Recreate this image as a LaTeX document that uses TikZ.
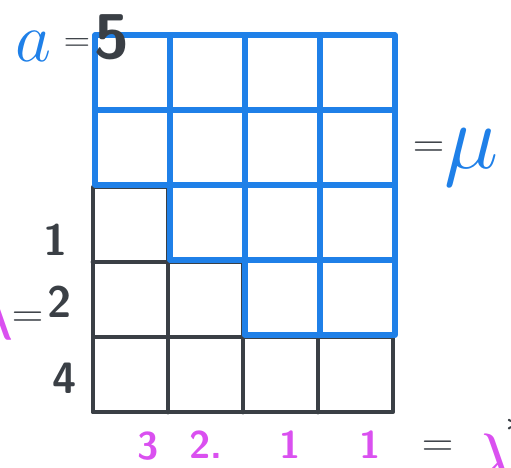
\documentclass[tikz,border=0pt]{standalone}
\usepackage{amsmath,amssymb}
\usepackage{graphicx}
\usepackage{tikz}
\usetikzlibrary{positioning}
\definecolor{penblue}{HTML}{1F80E8}
\definecolor{penblack}{HTML}{3A3F45}
\definecolor{penpink}{HTML}{DA50F0}

\begin{document}
\begin{tikzpicture}[x=1.5cm, y=1.5cm, line cap=round, line join=round]
    \useasboundingbox (-1.267,-0.773) rectangle (5.547,5.467);
    % === BLACK: cells of lambda ===
    \begin{scope}[penblack, line width=2.5pt, shift={(-0.03,-0.03)}]
        \draw (0,0) rectangle (4,1);
        \foreach \x in {1,2,3} {
            \draw (\x,0) -- (\x,1);
        }
        \draw (0,1) -- (0,3) -- (1,3) -- (1,1);
        \draw (0,2) -- (2,2) -- (2,1);
    \end{scope}
    % === BLUE: cells of mu ===
    \begin{scope}[penblue, line width=2.9pt]
        \draw (0,3) -- (0,5) -- (4,5) -- (4,1) -- (2,1) -- (2,2) -- (1,2) -- (1,3) -- cycle;
        \draw (0,4) -- (4,4);
        \draw (1,3) -- (4,3);
        \draw (2,2) -- (4,2);
        \draw (1,3) -- (1,5);
        \foreach \x in {2,3} {
            \draw (\x,1) -- (\x,5);
        }
    \end{scope}
    % Top left: a = 5
    \node[penblue, font=\Huge] (aName) at (-0.82,4.85) {\scalebox{1.6}{$a$}};
    \node[penblack, font=\fontsize{22}{22}\selectfont] (aEq) at (-0.24,4.86) {$=$};
    \node[penblack, font=\fontsize{36}{36}\selectfont\sffamily\bfseries] (aVal) at (0.22,4.97) {5};
    % Right: = mu
    \node[penblack, font=\Huge] (muEq) at (4.45,3.47) {$=$};
    \node[penblue, font=\Huge] (muName) at (5.02,3.36) {\scalebox{2.1}{$\mu$}};
    % Left: row lengths of lambda
    \node[penblack, font=\fontsize{25}{25}\selectfont\sffamily\bfseries] (rowA) at (-0.52,2.27) {1};
    \node[penblack, font=\fontsize{25}{25}\selectfont\sffamily\bfseries] (rowB) at (-0.47,1.44) {2};
    \node[penblack, font=\fontsize{25}{25}\selectfont\sffamily\bfseries] (rowC) at (-0.4,0.42) {4};
    \node[penblack, font=\Huge] (lamEq) at (-0.9,1.2) {$=$};
    \node[penpink, font=\Huge] (lamName) at (-1.38,1.3) {\scalebox{1.8}{$\lambda$}};
    % Bottom: column lengths of lambda
    \node[penpink, font=\fontsize{22}{22}\selectfont\sffamily\bfseries] (colA) at (0.71,-0.48) {3};
    \node[penpink, font=\fontsize{22}{22}\selectfont\sffamily\bfseries] (colB) at (1.48,-0.46) {2.};
    \node[penpink, font=\fontsize{22}{22}\selectfont\sffamily\bfseries] (colC) at (2.6,-0.46) {1};
    \node[penpink, font=\fontsize{22}{22}\selectfont\sffamily\bfseries] (colD) at (3.67,-0.46) {1};
    \node[penblack, font=\Huge] (conjEq) at (4.57,-0.52) {$=$};
    \node[penpink, font=\Huge] (conjName) at (5.3,-0.68) {\scalebox{1.8}{$\lambda$}};
    \node[penblack, font=\Huge] (conjStar) at (5.62,-0.2) {$\ast$};
\end{tikzpicture}
\end{document}
